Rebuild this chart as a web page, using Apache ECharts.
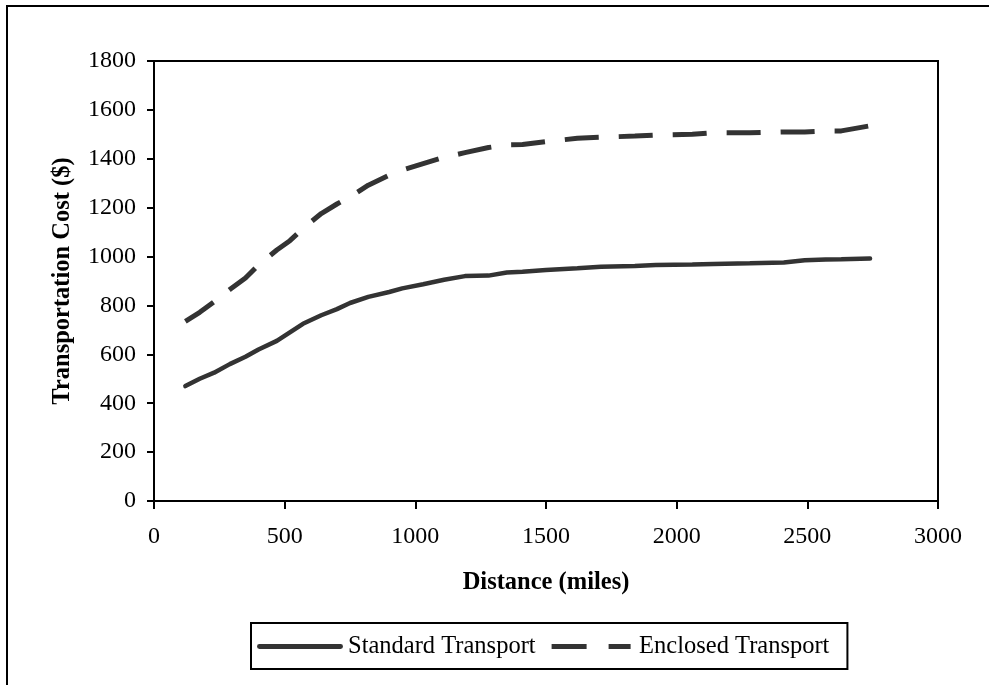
<!DOCTYPE html>
<html>
<head>
<meta charset="utf-8">
<title>Transportation Cost vs Distance</title>
<script src="https://cdn.jsdelivr.net/npm/echarts@6/dist/echarts.min.js"></script>
<style>
  html, body { margin: 0; padding: 0; background: #fff; }
  #chart { width: 989px; height: 685px; }
</style>
</head>
<body>
<div id="chart"></div>
<script>
// distance (miles)
const distances = [120, 175, 230, 290, 350, 400, 470, 520, 570, 640, 700, 750, 820, 900, 950,
    1030, 1110, 1190, 1280, 1350, 1410, 1500, 1620, 1710, 1840, 1920, 2060, 2140, 2280,
    2410, 2490, 2570, 2630, 2740];

// transportation cost ($)
const standardCost = [470, 500, 525, 560, 590, 620, 655, 690, 725, 760, 785, 810, 835, 855, 870,
    887, 905, 920, 922, 935, 938, 945, 952, 958, 961, 965, 968, 970, 973,
    976, 985, 988, 989, 992];
const enclosedCost = [735, 772, 815, 865, 912, 966, 1027, 1065, 1115, 1176, 1215, 1244, 1292, 1333, 1354,
    1380, 1406, 1425, 1446, 1457, 1458, 1470, 1484, 1488, 1493, 1497, 1500, 1506, 1506,
    1510, 1510, 1514, 1514, 1535];

const seriesNames = ['Standard Transport', 'Enclosed Transport'];

const pairs = (ys) => distances.map((d, i) => [d, ys[i]]);

const serif = 'Liberation Serif, Times New Roman, serif';
const lineColor = '#333';

// legend icons: a solid bar and a two-dash bar
const solidIcon = 'path://M2,0 H84 A2.5,2.5 0 0 1 84,5 H2 A2.5,2.5 0 0 1 2,0 Z';
const dashIcon = 'path://M0,0 H35 V5 H0 Z M57,0 H79 V5 H57 Z';

const chart = echarts.init(document.getElementById('chart'));

const option = {
    animation: false,
    backgroundColor: '#fff',
    textStyle: { fontFamily: serif, color: '#000' },
    // outer frame of the picture
    graphic: [{
        type: 'rect',
        shape: { x: 7, y: 6, width: 1000, height: 700 },
        style: { fill: 'none', stroke: '#000', lineWidth: 2 },
        silent: true
    }],
    grid: {
        left: 154,
        top: 61,
        right: 51,
        bottom: 184,
        show: true,
        borderColor: '#000',
        borderWidth: 2
    },
    legend: {
        left: 251,
        top: 623,
        data: [
            { name: seriesNames[0], icon: solidIcon },
            { name: seriesNames[1], icon: dashIcon }
        ],
        itemWidth: 86,
        itemHeight: 5,
        itemGap: 16,
        textGap: 3,
        padding: [11, 18, 10, 6],
        borderColor: '#000',
        borderWidth: 2,
        backgroundColor: '#fff',
        itemStyle: { color: lineColor },
        textStyle: { fontFamily: serif, fontSize: 24.5, color: '#000' }
    },
    xAxis: {
        type: 'value',
        min: 0,
        max: 3000,
        interval: 500,
        name: 'Distance (miles)',
        nameLocation: 'middle',
        nameGap: 69,
        nameTextStyle: { fontFamily: serif, fontSize: 24.5, fontWeight: 'bold', color: '#000' },
        axisLine: { show: true, onZero: false, lineStyle: { color: '#000', width: 2 } },
        axisTick: { show: true, inside: false, length: 8, lineStyle: { color: '#000', width: 2 } },
        axisLabel: { fontFamily: serif, fontSize: 24, color: '#000', margin: 24, formatter: (v) => String(v) },
        splitLine: { show: false }
    },
    yAxis: {
        type: 'value',
        min: 0,
        max: 1800,
        interval: 200,
        name: 'Transportation Cost ($)',
        nameLocation: 'middle',
        nameGap: 79,
        nameTextStyle: { fontFamily: serif, fontSize: 24.5, fontWeight: 'bold', color: '#000' },
        axisLine: { show: true, onZero: false, lineStyle: { color: '#000', width: 2 } },
        axisTick: { show: true, inside: false, length: 7, lineStyle: { color: '#000', width: 2 } },
        axisLabel: { fontFamily: serif, fontSize: 24, color: '#000', margin: 18, formatter: (v) => String(v) },
        splitLine: { show: false }
    },
    series: [
        {
            name: seriesNames[0],
            type: 'line',
            data: pairs(standardCost),
            symbol: 'none',
            color: lineColor,
            lineStyle: { color: lineColor, width: 4.5, type: 'solid', cap: 'round' }
        },
        {
            name: seriesNames[1],
            type: 'line',
            data: pairs(enclosedCost),
            symbol: 'none',
            color: lineColor,
            lineStyle: { color: lineColor, width: 5, type: [34, 20] }
        }
    ]
};

chart.setOption(option);
</script>
</body>
</html>
